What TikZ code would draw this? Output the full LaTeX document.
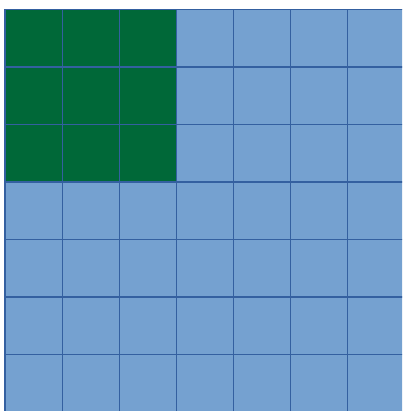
\documentclass[tikz,border=0pt]{standalone}
\definecolor{cellblue}{RGB}{117,161,208}
\definecolor{cellgreen}{RGB}{0,104,56}
\definecolor{gridline}{RGB}{52,96,160}
\begin{document}
\begin{tikzpicture}[x=1pt,y=-1pt,
  gridstyle/.style={draw=gridline,line width=1.2pt}]
\useasboundingbox (0,0) rectangle (402,411);
\fill[white] (0,0) rectangle (402,411);
\begin{scope}
\clip (0,0) rectangle (402,411);
\fill[cellblue] (5,9.5) rectangle (5+7*57.1,9.5+7*57.5);
\fill[cellgreen] (5,9.5) rectangle (5+3*57.1,9.5+3*57.5);
\foreach \i in {0,...,7} {
  \draw[gridstyle] (5+\i*57.1,9.5) -- (5+\i*57.1,9.5+7*57.5);
  \draw[gridstyle] (5,9.5+\i*57.5) -- (5+7*57.1,9.5+\i*57.5);
}
\end{scope}
\end{tikzpicture}
\end{document}
